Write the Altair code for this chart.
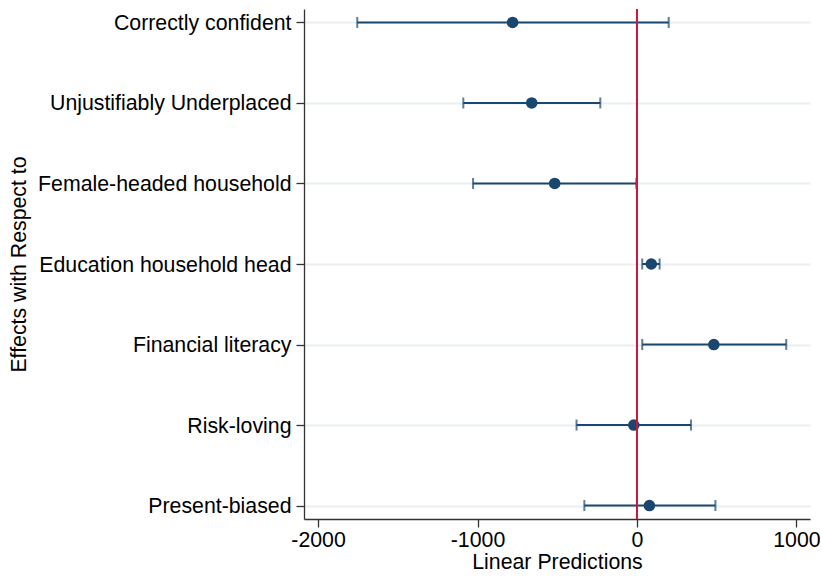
import altair as alt
import pandas as pd

categories = [
    "Correctly confident",
    "Unjustifiably Underplaced",
    "Female-headed household",
    "Education household head",
    "Financial literacy",
    "Risk-loving",
    "Present-biased",
]
estimate = [-780, -660, -516, 90, 482, -20, 78]
ci_low = [-1754, -1089, -1028, 33, 33, -379, -330]
ci_high = [199, -230, -4, 142, 936, 339, 492]
x_ticks = [-2000, -1000, 0, 1000]

df = pd.DataFrame({"cat": categories, "est": estimate, "lo": ci_low, "hi": ci_high})
ref = pd.DataFrame({"x": [0]})

FONT = "Liberation Sans"
NAVY = "#1a476f"
RED = "#c8163c"

xscale = alt.Scale(domain=[-2088, 1085], nice=False, zero=False)
yscale = alt.Scale(type="point", padding=0.167)

x_enc = alt.X(
    "lo:Q",
    scale=xscale,
    axis=alt.Axis(
        title="Linear Predictions",
        values=x_ticks,
        labelExpr="'' + datum.value",
        grid=False,
        tickSize=8,
        labelPadding=2,
        titlePadding=1,
    ),
)
y_enc = alt.Y(
    "cat:N",
    sort=categories,
    scale=yscale,
    axis=alt.Axis(
        title="Effects with Respect to",
        grid=True,
        gridColor="#e9eff2",
        gridWidth=2,
        tickSize=8,
        labelPadding=5,
        labelLimit=0,
        labelBaseline="middle",
        labelOffset=1,
        titleX=-285,
        titleBaseline="middle",
    ),
)

rules = alt.Chart(df).mark_rule(color=NAVY, strokeWidth=2).encode(
    x=x_enc, x2="hi:Q", y=y_enc
)
cap_lo = alt.Chart(df).mark_tick(color=NAVY, thickness=2, size=11).encode(
    x=alt.X("lo:Q", scale=xscale), y=alt.Y("cat:N", sort=categories, scale=yscale)
)
cap_hi = alt.Chart(df).mark_tick(color=NAVY, thickness=2, size=11).encode(
    x=alt.X("hi:Q", scale=xscale), y=alt.Y("cat:N", sort=categories, scale=yscale)
)
pts = alt.Chart(df).mark_point(filled=True, color=NAVY, size=135, opacity=1).encode(
    x=alt.X("est:Q", scale=xscale), y=alt.Y("cat:N", sort=categories, scale=yscale)
)
zero = alt.Chart(ref).mark_rule(color=RED, strokeWidth=2).encode(
    x=alt.X("x:Q", scale=xscale)
)

chart = (
    alt.layer(rules, cap_lo, cap_hi, pts, zero)
    .properties(
        width=506,
        height=510,
        autosize=alt.AutoSizeParams(type="none"),
        padding={"left": 304, "top": 9, "right": 11, "bottom": 57},
        background="white",
    )
    .configure_view(stroke=None)
    .configure_axis(
        labelFont=FONT,
        titleFont=FONT,
        labelFontSize=21.3,
        titleFontSize=21.3,
        labelColor="#000",
        titleColor="#000",
        titleFontWeight="normal",
        domainColor="#333",
        domainWidth=1.3,
        tickColor="#333",
        tickWidth=1.3,
    )
)

chart.save("out.html", embed_options={"renderer": "svg", "actions": False})
